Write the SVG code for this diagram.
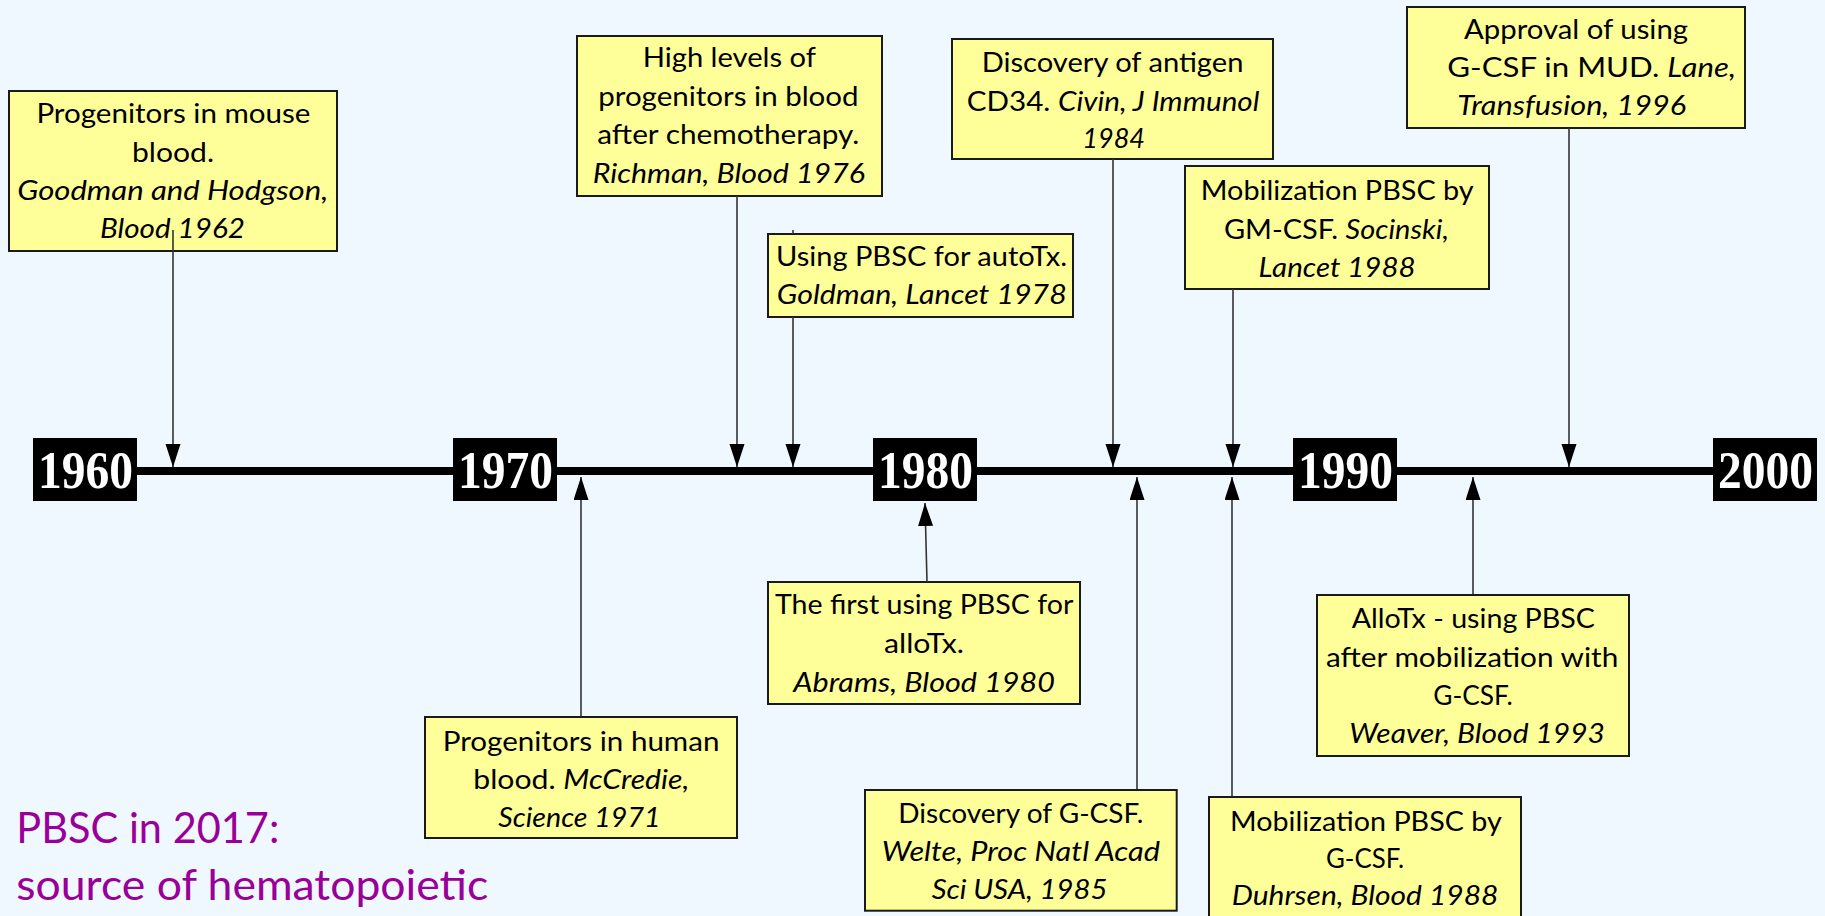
<svg xmlns="http://www.w3.org/2000/svg" width="1825" height="916" viewBox="0 0 1825 916">
<style>
.box{fill:#FFFF99;stroke:#1a1a1a;stroke-width:2}
.t{font-family:Lato,"Liberation Sans",sans-serif;font-size:27px;fill:#000}
.i{font-style:italic}
.yr{fill:#000}
.yt{font-family:"Liberation Serif",serif;font-weight:bold;font-size:53px;fill:#fff}
.c{fill:none;stroke:#333;stroke-width:1.6}
.p{font-family:Lato,"Liberation Sans",sans-serif;font-size:43px;fill:#990099}
</style>
<defs>
<marker id="ah" markerUnits="userSpaceOnUse" markerWidth="24" markerHeight="16" refX="23" refY="7.5" orient="auto">
<path d="M0,0 L23,7.5 L0,15 z" fill="#000"/>
</marker>
</defs>
<rect x="0" y="0" width="1825" height="916" fill="#F0F8FF"/>

<g id="timeline">
<line x1="85" y1="471" x2="1765" y2="471" stroke="#000" stroke-width="8"/>
<g id="y1960"><rect class="yr" x="33" y="438" width="104" height="63"/><text class="yt" x="38" y="488" textLength="95" lengthAdjust="spacingAndGlyphs">1960</text></g>
<g id="y1970"><rect class="yr" x="453" y="438" width="104" height="63"/><text class="yt" x="458" y="488" textLength="95" lengthAdjust="spacingAndGlyphs">1970</text></g>
<g id="y1980"><rect class="yr" x="873" y="438" width="104" height="63"/><text class="yt" x="878" y="488" textLength="95" lengthAdjust="spacingAndGlyphs">1980</text></g>
<g id="y1990"><rect class="yr" x="1293" y="438" width="104" height="63"/><text class="yt" x="1298" y="488" textLength="95" lengthAdjust="spacingAndGlyphs">1990</text></g>
<g id="y2000"><rect class="yr" x="1713" y="438" width="104" height="63"/><text class="yt" x="1718" y="488" textLength="95" lengthAdjust="spacingAndGlyphs">2000</text></g>
</g>

<g id="n1962">
<rect class="box" x="9" y="91" width="328" height="160"/>
<text class="t" x="36.4" y="123.3" textLength="274" lengthAdjust="spacingAndGlyphs">Progenitors in mouse</text>
<text class="t" x="132" y="161.7" textLength="82" lengthAdjust="spacingAndGlyphs">blood.</text>
<text class="t i" x="17.2" y="200" textLength="311" lengthAdjust="spacingAndGlyphs">Goodman and Hodgson,</text>
<text class="t i" x="100" y="238.3" textLength="145" lengthAdjust="spacingAndGlyphs">Blood 1962</text>
</g>

<g id="n1976">
<rect class="box" x="577" y="36" width="305" height="160"/>
<text class="t" x="642.7" y="67.3" textLength="173.3" lengthAdjust="spacingAndGlyphs">High levels of</text>
<text class="t" x="598.3" y="106" textLength="260.3" lengthAdjust="spacingAndGlyphs">progenitors in blood</text>
<text class="t" x="597.3" y="144.3" textLength="262" lengthAdjust="spacingAndGlyphs">after chemotherapy.</text>
<text class="t i" x="592.7" y="182.7" textLength="272.3" lengthAdjust="spacingAndGlyphs">Richman, Blood 1976</text>
</g>

<g id="n1978">
<rect class="box" x="768" y="234" width="305" height="83"/>
<text class="t" x="776" y="265.5" textLength="291" lengthAdjust="spacingAndGlyphs">Using PBSC for autoTx.</text>
<text class="t i" x="776.8" y="303.5" textLength="290" lengthAdjust="spacingAndGlyphs">Goldman, Lancet 1978</text>
</g>

<g id="n1984">
<rect class="box" x="952" y="39" width="321" height="120"/>
<text class="t" x="981.7" y="72" textLength="261.7" lengthAdjust="spacingAndGlyphs">Discovery of antigen</text>
<text class="t" x="966.7" y="110.5" textLength="292.7" lengthAdjust="spacingAndGlyphs">CD34. <tspan class="i">Civin, J Immunol</tspan></text>
<text class="t i" x="1082.3" y="148.3" textLength="62.7" lengthAdjust="spacingAndGlyphs">1984</text>
</g>

<g id="n1988a">
<rect class="box" x="1185" y="166" width="304" height="123"/>
<text class="t" x="1200.8" y="200" textLength="272.8" lengthAdjust="spacingAndGlyphs">Mobilization PBSC by</text>
<text class="t" x="1223.9" y="239" textLength="225" lengthAdjust="spacingAndGlyphs">GM-CSF. <tspan class="i">Socinski,</tspan></text>
<text class="t i" x="1258.6" y="277" textLength="157" lengthAdjust="spacingAndGlyphs">Lancet 1988</text>
</g>

<g id="n1996">
<rect class="box" x="1407" y="7" width="338" height="121"/>
<text class="t" x="1464" y="39.3" textLength="224" lengthAdjust="spacingAndGlyphs">Approval of using</text>
<text class="t" x="1447.3" y="77.3" textLength="288.7" lengthAdjust="spacingAndGlyphs">G-CSF in MUD. <tspan class="i">Lane,</tspan></text>
<text class="t i" x="1457.3" y="115" textLength="228.7" lengthAdjust="spacingAndGlyphs">Transfusion, 1996</text>
</g>

<g id="n1971">
<rect class="box" x="425" y="717" width="312" height="121"/>
<text class="t" x="442.7" y="751" textLength="276.7" lengthAdjust="spacingAndGlyphs">Progenitors in human</text>
<text class="t" x="473.3" y="789.3" textLength="216" lengthAdjust="spacingAndGlyphs">blood. <tspan class="i">McCredie,</tspan></text>
<text class="t i" x="498.3" y="826.7" textLength="162.3" lengthAdjust="spacingAndGlyphs">Science 1971</text>
</g>

<g id="n1980">
<rect class="box" x="768" y="582" width="312" height="122"/>
<text class="t" x="775" y="614" textLength="298.3" lengthAdjust="spacingAndGlyphs">The first using PBSC for</text>
<text class="t" x="884" y="653" textLength="80" lengthAdjust="spacingAndGlyphs">alloTx.</text>
<text class="t i" x="793.3" y="691.5" textLength="261.7" lengthAdjust="spacingAndGlyphs">Abrams, Blood 1980</text>
</g>

<g id="n1985">
<rect class="box" x="865" y="790" width="311.7" height="120.7"/>
<text class="t" x="898.3" y="822.5" textLength="245" lengthAdjust="spacingAndGlyphs">Discovery of G-CSF.</text>
<text class="t i" x="881.7" y="861" textLength="278.3" lengthAdjust="spacingAndGlyphs">Welte, Proc Natl Acad</text>
<text class="t i" x="931.7" y="899" textLength="175.7" lengthAdjust="spacingAndGlyphs">Sci USA, 1985</text>
</g>

<g id="n1993">
<rect class="box" x="1317" y="595" width="312" height="161"/>
<text class="t" x="1351.7" y="628.3" textLength="243.3" lengthAdjust="spacingAndGlyphs">AlloTx - using PBSC</text>
<text class="t" x="1326" y="666.7" textLength="292.3" lengthAdjust="spacingAndGlyphs">after mobilization with</text>
<text class="t" x="1433.3" y="705" textLength="79.3" lengthAdjust="spacingAndGlyphs">G-CSF.</text>
<text class="t i" x="1349.3" y="743.3" textLength="255.7" lengthAdjust="spacingAndGlyphs">Weaver, Blood 1993</text>
</g>

<g id="n1988b">
<rect class="box" x="1209" y="797" width="312" height="140"/>
<text class="t" x="1230" y="830.5" textLength="271.7" lengthAdjust="spacingAndGlyphs">Mobilization PBSC by</text>
<text class="t" x="1326" y="868.3" textLength="78" lengthAdjust="spacingAndGlyphs">G-CSF.</text>
<text class="t i" x="1231.7" y="905" textLength="266.7" lengthAdjust="spacingAndGlyphs">Duhrsen, Blood 1988</text>
</g>

<g id="title">
<text class="p" x="16.3" y="842.7" textLength="263" lengthAdjust="spacingAndGlyphs">PBSC in 2017:</text>
<text class="p" x="16.3" y="900" textLength="472" lengthAdjust="spacingAndGlyphs">source of hematopoietic</text>
</g>

<g id="connectors">
<path class="c" d="M173,230 V467" marker-end="url(#ah)"/>
<path class="c" d="M737,196 V467" marker-end="url(#ah)"/>
<path class="c" d="M793,230 V234 M793,317 V467" marker-end="url(#ah)"/>
<path class="c" d="M1113,159 V467" marker-end="url(#ah)"/>
<path class="c" d="M1233,289 V467" marker-end="url(#ah)"/>
<path class="c" d="M1569,128 V467" marker-end="url(#ah)"/>
<path class="c" d="M581,716 V477" marker-end="url(#ah)"/>
<path class="c" d="M927,582 L925,503" marker-end="url(#ah)"/>
<path class="c" d="M1137,789 V477" marker-end="url(#ah)"/>
<path class="c" d="M1232,796 V477" marker-end="url(#ah)"/>
<path class="c" d="M1473,594 V477" marker-end="url(#ah)"/>
</g>
</svg>
